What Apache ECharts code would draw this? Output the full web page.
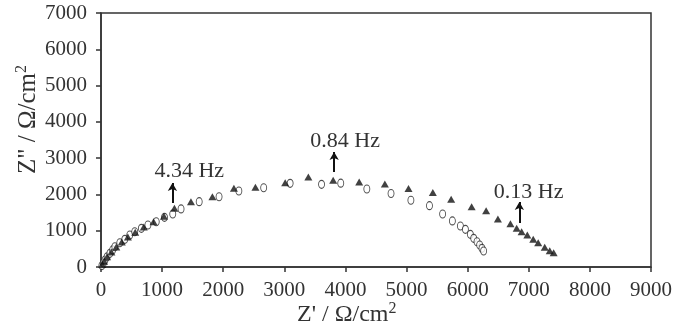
<!DOCTYPE html>
<html>
<head>
<meta charset="utf-8">
<script src="https://cdn.jsdelivr.net/npm/echarts@6/dist/echarts.min.js"></script>
<style>
html,body{margin:0;padding:0;background:#fff;}
#chart{width:675px;height:333px;}
</style>
</head>
<body>
<div id="chart"></div>
<script>
// Nyquist data, Z' vs Z'' (ohm/cm2)
var circles = [
  [15,40],[40,110],[65,190],[100,280],[146,377],[190,470],[227,559],[308,669],
  [390,763],[471,882],[552,972],[661,1066],[768,1157],[904,1248],[1039,1369],
  [1174,1460],[1310,1600],[1607,1800],[1932,1937],[2256,2094],[2662,2185],
  [3095,2305],[3609,2278],[3923,2310],[4350,2150],[4746,2025],[5071,1840],
  [5375,1690],[5590,1460],[5750,1270],[5881,1129],[5963,1039],[6044,901],
  [6099,791],[6153,697],[6196,606],[6234,515],[6261,440]
];
var triangles = [
  [20,70],[50,160],[100,280],[170,410],[250,550],[340,690],[440,830],[560,960],
  [700,1100],[860,1250],[1030,1400],[1201,1617],[1472,1800],[1823,1937],
  [2175,2168],[2527,2200],[3014,2322],[3393,2480],[3799,2390],[4225,2340],
  [4645,2290],[5032,2160],[5430,2050],[5730,1870],[6065,1660],[6302,1551],
  [6495,1322],[6700,1190],[6802,1066],[6883,972],[6976,882],[7073,763],
  [7154,669],[7261,543],[7343,449],[7407,394]
];
// frequency marks: label, arrow x, arrow from y, arrow to y, text x, text y
var freqNames = ['4.34 Hz', '0.84 Hz', '0.13 Hz'];
var arrowX = [1169, 3815, 6846];
var arrowY0 = [1763, 2617, 1212];
var arrowY1 = [2314, 3168, 1791];
var textX = [1445, 3994, 6997];
var textY = [2645, 3471, 2066];

var xMax = 9000, yMax = 7000, step = 1000;

var serif = '"Liberation Serif", "Times New Roman", serif';
var ink = '#333';

var chart = echarts.init(document.getElementById('chart'));

var arrows = freqNames.map(function (n, i) {
  return [{coord: [arrowX[i], arrowY0[i]]}, {coord: [arrowX[i], arrowY1[i]]}];
});
var notes = freqNames.map(function (n, i) {
  return {name: n, coord: [textX[i], textY[i]]};
});
var plain = function (v) { return String(v); };

chart.setOption({
  animation: false,
  backgroundColor: '#fff',
  grid: {
    left: 101, right: 20, top: 13, bottom: 66,
    show: true, borderColor: ink, borderWidth: 1.5
  },
  xAxis: {
    type: 'value', min: 0, max: xMax, interval: step,
    axisLine: {lineStyle: {color: ink, width: 1.5}},
    axisTick: {show: true, length: 5, lineStyle: {color: ink, width: 1.5}},
    axisLabel: {color: ink, fontFamily: serif, fontSize: 21, margin: 13, formatter: plain},
    splitLine: {show: false}
  },
  yAxis: {
    type: 'value', min: 0, max: yMax, interval: step,
    axisLine: {show: true, lineStyle: {color: ink, width: 1.5}},
    axisTick: {show: true, length: 5, lineStyle: {color: ink, width: 1.5}},
    axisLabel: {color: ink, fontFamily: serif, fontSize: 21, margin: 14, formatter: plain},
    splitLine: {show: false}
  },
  graphic: [
    {
      type: 'text', left: 297, top: 301,
      style: {
        text: "{t|Z' / \u03A9/cm}{s|2}",
        rich: {
          t: {fontFamily: serif, fontSize: 24, fill: ink},
          s: {fontFamily: serif, fontSize: 16, fill: ink, padding: [0, 0, 12, 0]}
        }
      }
    },
    {
      type: 'text', x: 14, y: 174, rotation: Math.PI / 2,
      style: {
        text: "{t|Z\" / \u03A9/cm}{s|2}",
        rich: {
          t: {fontFamily: serif, fontSize: 25, fill: ink},
          s: {fontFamily: serif, fontSize: 16, fill: ink, padding: [0, 0, 12, 0]}
        }
      }
    }
  ],
  series: [
    {
      type: 'scatter',
      data: circles,
      symbol: 'circle',
      symbolSize: [6, 8],
      itemStyle: {color: '#fff', borderColor: '#222', borderWidth: 1},
      markLine: {
        silent: true,
        symbol: ['none', 'arrow'],
        symbolSize: [7, 8],
        lineStyle: {color: '#111', width: 2, type: 'solid'},
        label: {show: false},
        data: arrows
      },
      markPoint: {
        silent: true,
        symbol: 'rect',
        symbolSize: 1,
        itemStyle: {color: 'rgba(0,0,0,0)'},
        label: {
          show: true, position: 'inside', formatter: '{b}',
          fontFamily: serif, fontSize: 22, color: ink
        },
        data: notes
      }
    },
    {
      type: 'scatter',
      data: triangles,
      symbol: 'triangle',
      symbolSize: [8, 7],
      itemStyle: {color: '#111'}
    }
  ]
});
</script>
</body>
</html>
